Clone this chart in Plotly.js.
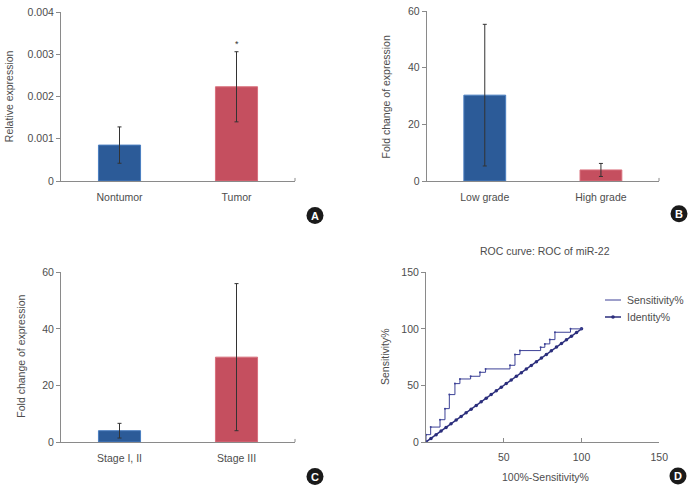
<!DOCTYPE html>
<html>
<head>
<meta charset="utf-8">
<script src="https://cdn.plot.ly/plotly-3.0.1.min.js"></script>
<style>
  html, body { margin: 0; padding: 0; background: #fff; }
  #chart { width: 690px; height: 485px; }
</style>
</head>
<body>
<div id="chart"></div>
<script>
// Panel A: relative miR-22 expression, nontumor vs tumor
const catsA = ['Nontumor', 'Tumor'];
const valsA = [0.00085, 0.00223];
const errA = [0.00043, 0.00083];

// Panel B: fold change by tumour grade
const catsB = ['Low grade', 'High grade'];
const valsB = [30.3, 3.9];
const errB = [25.0, 2.3];

// Panel C: fold change by stage
const catsC = ['Stage I, II', 'Stage III'];
const valsC = [4.0, 30.0];
const errC = [2.6, 26.0];

// Panel D: ROC curve vertices (step curve, horizontal then vertical)
const rocX = [0, 0, 3.0, 9.0, 12.2, 15.0, 18.6, 21.8, 28.7, 34.7, 38.3, 54.0, 57.2, 60.4, 73.7, 76.4, 79.6, 82.9, 92.9, 100];
const rocY = [0, 6.5, 13.2, 19.7, 29.5, 41.9, 51.6, 55.7, 58.1, 61.6, 64.6, 67.8, 77.3, 80.8, 83.7, 86.7, 90.5, 97.0, 100, 100];
// Identity reference line points
const identX = [0, 3.2, 6.5, 9.7, 12.9, 16.1, 19.4, 22.6, 25.8, 29.0, 32.3, 35.5, 38.7, 41.9, 45.2, 48.4, 51.6, 54.8, 58.1, 61.3, 64.5, 67.7, 71.0, 74.2, 77.4, 80.6, 83.9, 87.1, 90.3, 93.5, 96.8, 100];
const identY = [0, 3.2, 6.5, 9.7, 12.9, 16.1, 19.4, 22.6, 25.8, 29.0, 32.3, 35.5, 38.7, 41.9, 45.2, 48.4, 51.6, 54.8, 58.1, 61.3, 64.5, 67.7, 71.0, 74.2, 77.4, 80.6, 83.9, 87.1, 90.3, 93.5, 96.8, 100];

const W = 690, H = 485;
const px = v => v / W;
const py = v => 1 - v / H;

const BLUE = '#2c5b98';
const RED = '#c54f5f';
const NAVY = '#2b2e7c';
const TXT = '#4d4d4d';
const AXC = '#8a8a8a';
const FONT = 'Liberation Sans, Arial, sans-serif';

function barTrace(cats, vals, errs, ax) {
  return {
    type: 'bar', x: cats, y: vals, width: 0.36,
    xaxis: 'x' + ax, yaxis: 'y' + ax,
    marker: { color: [BLUE, RED], line: { color: ['#4a7ec0', '#d9707d'], width: 1 } },
    error_y: { type: 'data', array: errs, visible: true, color: '#333', thickness: 1, width: 2 },
    showlegend: false, hoverinfo: 'skip'
  };
}

const traces = [
  barTrace(catsA, valsA, errA, ''),
  barTrace(catsB, valsB, errB, '2'),
  barTrace(catsC, valsC, errC, '3'),
  {
    type: 'scatter', mode: 'lines', x: identX, y: identY, xaxis: 'x4', yaxis: 'y4',
    line: { color: NAVY, width: 1.5 }, showlegend: false, hoverinfo: 'skip'
  },
  {
    type: 'scatter', mode: 'markers', x: identX, y: identY, xaxis: 'x4', yaxis: 'y4',
    marker: { color: NAVY, size: 3.5 }, showlegend: false, hoverinfo: 'skip'
  },
  {
    type: 'scatter', mode: 'lines+markers', x: rocX, y: rocY, xaxis: 'x4', yaxis: 'y4',
    line: { color: '#3c4196', width: 1, shape: 'hv' },
    marker: { color: '#3c4196', size: 2 }, showlegend: false, hoverinfo: 'skip'
  }
];

const tickFont = { family: FONT, size: 10.5, color: TXT };

function catAxis(domain, anchor) {
  return {
    domain: domain, anchor: anchor, range: [-0.5, 1.5], type: 'category',
    showline: true, linecolor: AXC, linewidth: 1, ticks: '', showgrid: false,
    zeroline: false, tickfont: tickFont, fixedrange: true, ticklabelstandoff: 6
  };
}
function valAxis(domain, anchor, range, dtick) {
  return {
    domain: domain, anchor: anchor, range: range, dtick: dtick, tick0: 0,
    showline: true, linecolor: AXC, linewidth: 1, ticks: 'outside', ticklen: 4,
    tickcolor: AXC, showgrid: false, zeroline: false, tickfont: tickFont, fixedrange: true
  };
}

const dxL = [px(61), px(295)];
const dxR = [px(426.7), px(659)];
const dyT = [py(181), py(12)];
const dyTB = [py(181), py(11)];
const dyB = [py(442), py(272.3)];

const layout = {
  width: W, height: H,
  margin: { l: 0, r: 0, t: 0, b: 0 },
  paper_bgcolor: '#fff', plot_bgcolor: 'rgba(0,0,0,0)',
  font: { family: FONT, color: TXT, size: 10.5 },
  bargap: 0,
  xaxis: catAxis(dxL, 'y'),
  yaxis: valAxis(dyT, 'x', [0, 0.004], 0.001),
  xaxis2: catAxis(dxR, 'y2'),
  yaxis2: valAxis(dyTB, 'x2', [0, 60], 20),
  xaxis3: catAxis(dxL, 'y3'),
  yaxis3: valAxis(dyB, 'x3', [0, 60], 20),
  xaxis4: {
    domain: [px(426), px(659.3)], anchor: 'y4', range: [0, 150], tickvals: [50, 100, 150],
    showline: true, linecolor: AXC, linewidth: 1, ticks: 'inside', ticklen: 4, tickcolor: AXC,
    showgrid: false, zeroline: false, tickfont: tickFont, fixedrange: true, ticklabelstandoff: 5
  },
  yaxis4: valAxis(dyB, 'x4', [0, 150], 50),
  shapes: [],
  annotations: []
};

// end ticks on the category axes
[['x', 'y'], ['x2', 'y2'], ['x3', 'y3']].forEach(([xa, ya]) => {
  layout.shapes.push({
    type: 'line', xref: xa + ' domain', yref: ya + ' domain',
    x0: 1, x1: 1, y0: 0, y1: 0.018, line: { color: AXC, width: 1 }
  });
});

// axis titles
function ann(text, x, y, opts) {
  layout.annotations.push(Object.assign({
    text: text, xref: 'paper', yref: 'paper', x: px(x), y: py(y),
    showarrow: false, xanchor: 'center', yanchor: 'middle',
    font: { family: FONT, size: 10.5, color: TXT }
  }, opts || {}));
}
ann('Relative expression', 8.5, 96.7, { textangle: -90 });
ann('Fold change of expression', 385.7, 96.7, { textangle: -90 });
ann('Fold change of expression', 21, 356.7, { textangle: -90 });
ann('Sensitivity%', 385, 357, { textangle: -90 });
ann('ROC curve: ROC of miR-22', 545, 250.7);
ann('100%-Sensitivity%', 545, 477);

// significance mark over the tumour bar
layout.annotations.push({
  text: '*', xref: 'x', yref: 'y', x: 'Tumor', y: valsA[1] + errA[1],
  yanchor: 'bottom', yshift: 1, showarrow: false,
  font: { family: FONT, size: 9, color: '#333' }
});

// legend for the ROC panel
layout.shapes.push({ type: 'line', xref: 'paper', yref: 'paper', x0: px(605), x1: px(621), y0: py(300), y1: py(300), line: { color: '#3c4196', width: 1 } });
layout.shapes.push({ type: 'line', xref: 'paper', yref: 'paper', x0: px(605), x1: px(621), y0: py(317), y1: py(317), line: { color: NAVY, width: 1.5 } });
layout.shapes.push({ type: 'circle', xref: 'paper', yref: 'paper', x0: px(611.2), x1: px(614.8), y0: py(318.8), y1: py(315.2), fillcolor: NAVY, line: { width: 0 } });
ann('Sensitivity%', 625, 300, { xanchor: 'left' });
ann('Identity%', 625, 317, { xanchor: 'left' });

// panel letter badges
[['A', 315, 215.5], ['B', 679, 213.7], ['C', 315, 476.5], ['D', 678, 476]].forEach(([t, cx, cy]) => {
  const r = 8.5;
  layout.shapes.push({
    type: 'circle', xref: 'paper', yref: 'paper',
    x0: px(cx - r), x1: px(cx + r), y0: py(cy + r), y1: py(cy - r),
    fillcolor: '#1a1a1a', line: { width: 0 }
  });
  ann(t, cx, cy, { font: { family: FONT, size: 11, color: '#fff', weight: 'bold' } });
});

Plotly.newPlot('chart', traces, layout, { staticPlot: true, displayModeBar: false });
</script>
</body>
</html>
